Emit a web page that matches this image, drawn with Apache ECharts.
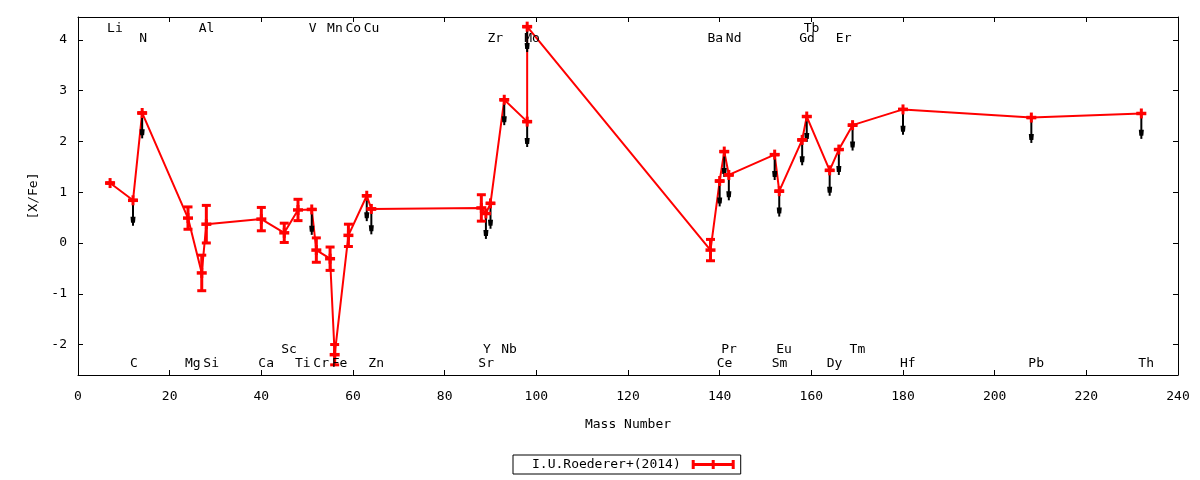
<!DOCTYPE html>
<html>
<head>
<meta charset="utf-8">
<script src="https://cdn.jsdelivr.net/npm/echarts@6/dist/echarts.min.js"></script>
<style>
  html, body { margin: 0; padding: 0; background: #fff; }
  #chart { width: 1200px; height: 480px; }
</style>
</head>
<body>
<div id="chart"></div>
<script>
// element data (mass number, [X/Fe], error, upper-limit flag)
const names = ['Li', 'C', 'N', 'Mg', 'Al', 'Si', 'Ca', 'Sc', 'Ti', 'V', 'Cr', 'Mn', 'Fe', 'Co', 'Cu', 'Zn',
  'Sr', 'Y', 'Zr', 'Nb', 'Mo', '', 'Ba', 'Ce', 'Pr', 'Nd', 'Sm', 'Eu', 'Gd', 'Tb', 'Dy', 'Er', 'Tm',
  'Hf', 'Pb', 'Th']
const mass = [7, 12, 14, 24, 27, 28, 40, 45, 48, 51, 52, 55, 56, 59, 63, 64,
  88, 89, 90, 93, 98, 98, 138, 140, 141, 142, 152, 153, 158, 159, 164, 166, 169,
  180, 208, 232]
const values = [1.18, 0.84, 2.56, 0.49, -0.59, 0.37, 0.47, 0.20, 0.65, 0.66, -0.14, -0.31, -2.20, 0.15, 0.93, 0.67,
  0.69, 0.58, 0.78, 2.82, 2.39, 4.26, -0.14, 1.22, 1.80, 1.34, 1.74, 1.02, 2.03, 2.49, 1.43, 1.84, 2.32,
  2.63, 2.47, 2.55]
const errors = [0, 0, 0, 0.22, 0.35, 0.37, 0.23, 0.19, 0.21, 0, 0.24, 0.23, 0.20, 0.22, 0, 0,
  0.26, 0, 0, 0, 0, 0, 0.21, 0, 0, 0, 0, 0, 0, 0, 0, 0, 0,
  0, 0, 0]
const limits = [0, 1, 1, 0, 0, 0, 0, 0, 0, 1, 0, 0, 0, 0, 1, 1,
  0, 1, 1, 1, 1, 1, 0, 1, 1, 1, 1, 1, 1, 1, 1, 1, 1,
  1, 1, 1]
// which text row each element name sits in (0,1 top; 2,3 bottom; -1 none)
const labelRow = [0, 3, 1, 3, 0, 3, 3, 2, 3, 0, 3, 0, 3, 0, 0, 3,
  3, 2, 1, 2, 1, -1, 1, 3, 2, 1, 3, 2, 1, 0, 3, 1, 2,
  3, 3, 3]

const xTicks = [0, 20, 40, 60, 80, 100, 120, 140, 160, 180, 200, 220, 240]
const yTicks = [-2, -1, 0, 1, 2, 3, 4]

const seriesName = 'I.U.Roederer+(2014)'

const RED = '#ff0000'
const FONT = 'DejaVu Sans Mono'
const ROW_Y = [4.23, 4.03, -2.10, -2.38]
const ARROW_LEN = 0.5

const chart = echarts.init(document.getElementById('chart'), null, { renderer: 'canvas' })

const points = mass.map((m, i) => [m, values[i], errors[i]])
const arrows = mass.map((m, i) => [m, values[i]]).filter((d, i) => limits[i])
const labels = names
  .map((n, i) => ({ name: n, value: [mass[i], ROW_Y[labelRow[i]] ?? 0] }))
  .filter((d, i) => labelRow[i] >= 0)

const axisCommon = {
  type: 'value',
  axisLine: { show: true, onZero: false, lineStyle: { color: '#000', width: 1 } },
  axisTick: { show: true, inside: true, length: 5, lineStyle: { color: '#000' } },
  splitLine: { show: false },
  axisLabel: { color: '#000', fontFamily: FONT, fontSize: 13 },
}

const option = {
  animation: false,
  backgroundColor: '#fff',
  grid: { left: 78, right: 22, top: 17, bottom: 105 },
  legend: {
    data: [seriesName],
    left: 513,
    top: 455,
    orient: 'horizontal',
    align: 'right',
    selectedMode: false,
    padding: [3, 6, 3, 19],
    borderColor: '#000',
    borderWidth: 1,
    borderRadius: 0,
    itemWidth: 43,
    itemHeight: 9,
    icon: 'path://M0,0h3v9h-3z M20,0h3v9h-3z M40,0h3v9h-3z M0,3h43v3h-43z',
    textStyle: { color: '#000', fontFamily: FONT, fontSize: 13, padding: [0, 6, 0, 0] },
  },
  xAxis: [
    {
      ...axisCommon,
      position: 'bottom',
      min: 0,
      max: 240,
      interval: 20,
      axisLabel: { ...axisCommon.axisLabel, margin: 15 },
      name: 'Mass Number',
      nameLocation: 'middle',
      nameGap: 43,
      nameTextStyle: { color: '#000', fontFamily: FONT, fontSize: 13 },
    },
    {
      ...axisCommon,
      position: 'top',
      min: 0,
      max: 240,
      interval: 20,
      axisLabel: { show: false },
    },
  ],
  yAxis: [
    {
      ...axisCommon,
      position: 'left',
      min: -2.6,
      max: 4.45,
      axisTick: { ...axisCommon.axisTick, customValues: yTicks },
      axisLabel: { ...axisCommon.axisLabel, margin: 11, customValues: yTicks },
      name: '[X/Fe]',
      nameLocation: 'middle',
      nameGap: 37,
      nameTextStyle: { color: '#000', fontFamily: FONT, fontSize: 13 },
    },
    {
      ...axisCommon,
      position: 'right',
      min: -2.6,
      max: 4.45,
      axisTick: { ...axisCommon.axisTick, customValues: yTicks },
      axisLabel: { show: false, customValues: yTicks },
    },
  ],
  series: [
    {
      // connecting line
      type: 'line',
      name: 'line',
      data: mass.map((m, i) => [m, values[i]]),
      showSymbol: false,
      symbol: 'none',
      lineStyle: { color: RED, width: 2 },
      z: 2,
      silent: true,
    },
    {
      // upper limits
      type: 'custom',
      name: 'limits',
      data: arrows,
      z: 3,
      silent: true,
      renderItem: (params, api) => {
        const p0 = api.coord([api.value(0), api.value(1)])
        const p1 = api.coord([api.value(0), api.value(1) - ARROW_LEN])
        const x = p0[0]
        return {
          type: 'group',
          children: [
            { type: 'line', shape: { x1: x, y1: p0[1], x2: x, y2: p1[1] }, style: { stroke: '#000', lineWidth: 2 } },
            {
              type: 'polygon',
              shape: { points: [[x - 2.5, p1[1] - 9], [x + 2.5, p1[1] - 9], [x + 2, p1[1] - 3], [x - 2, p1[1] - 3]] },
              style: { fill: '#000' },
            },
          ],
        }
      },
    },
    {
      // points with error bars
      type: 'custom',
      name: seriesName,
      data: points,
      encode: { x: 0, y: 1 },
      itemStyle: { color: RED },
      z: 4,
      silent: true,
      renderItem: (params, api) => {
        const x = api.value(0), y = api.value(1), e = api.value(2)
        const c = api.coord([x, y])
        const top = api.coord([x, y + e])[1]
        const bot = api.coord([x, y - e])[1]
        const st = { stroke: RED, lineWidth: 3 }
        const cap = 4.5
        const px = c[0]
        return {
          type: 'group',
          children: [
            { type: 'line', shape: { x1: px, y1: top, x2: px, y2: bot }, style: st },
            { type: 'line', shape: { x1: px - cap, y1: top, x2: px + cap, y2: top }, style: st },
            { type: 'line', shape: { x1: px - cap, y1: bot, x2: px + cap, y2: bot }, style: st },
            { type: 'line', shape: { x1: px - 5, y1: c[1], x2: px + 5, y2: c[1] }, style: { stroke: RED, lineWidth: 3.5 } },
            { type: 'line', shape: { x1: px, y1: c[1] - 5, x2: px, y2: c[1] + 5 }, style: { stroke: RED, lineWidth: 3 } },
          ],
        }
      },
    },
    {
      // element names
      type: 'custom',
      name: 'names',
      data: labels,
      z: 5,
      silent: true,
      renderItem: (params, api) => {
        const p = api.coord([api.value(0), api.value(1)])
        return {
          type: 'text',
          x: p[0] - 3,
          y: p[1],
          style: {
            text: labels[params.dataIndex].name,
            fill: '#000',
            font: '13px "' + FONT + '"',
            textAlign: 'left',
            textVerticalAlign: 'middle',
          },
        }
      },
    },
  ],
}

chart.setOption(option)
</script>
</body>
</html>
